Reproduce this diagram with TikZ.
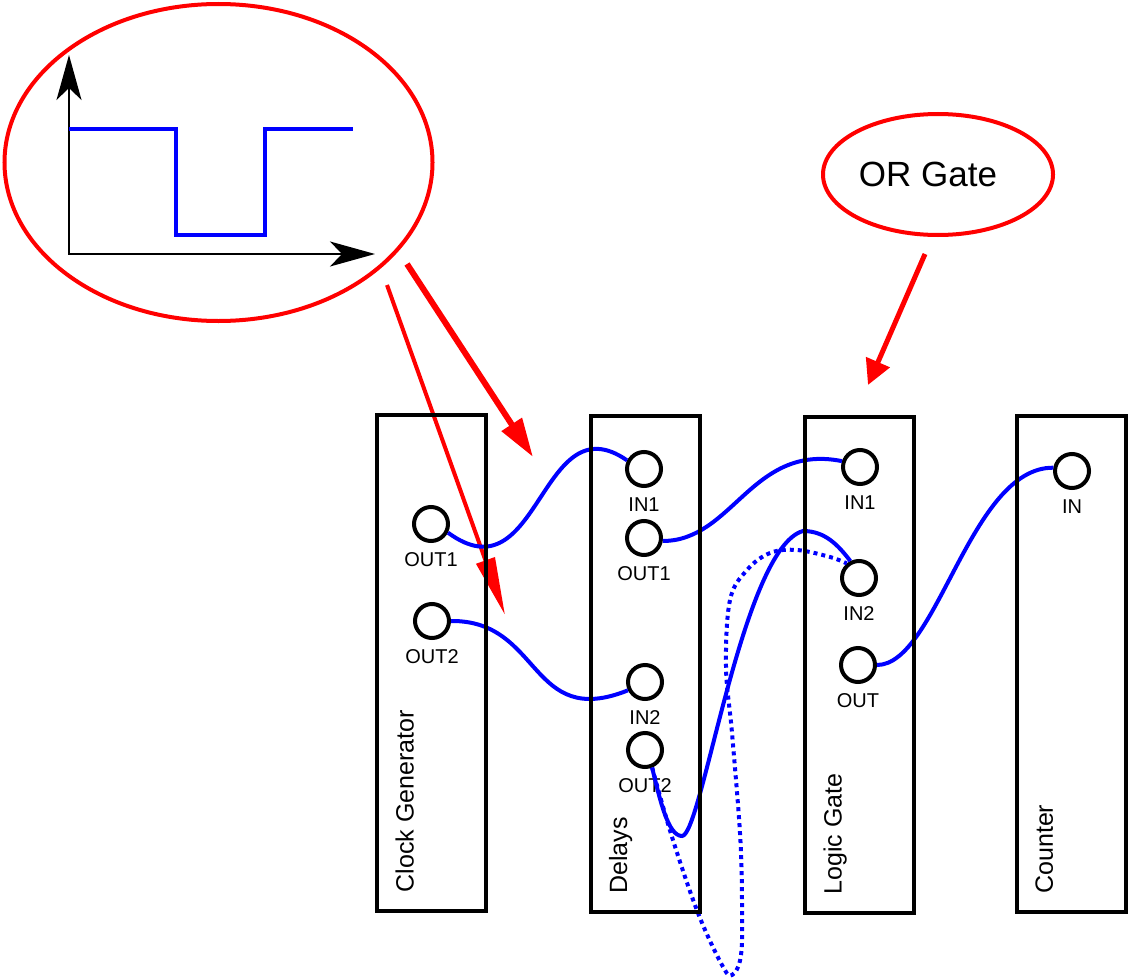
\documentclass[tikz,border=0pt]{standalone}
\usepackage{fontspec}
\setmainfont{Liberation Sans}
\usetikzlibrary{arrows.meta,shapes.geometric,calc}
\begin{document}
\begin{tikzpicture}[x=0.5pt,y=-0.5pt,
  blk/.style={draw, line width=2pt, minimum width=54.5pt, minimum height=248pt, inner sep=0pt},
  boxlbl/.style={rotate=90, anchor=north west, inner sep=0pt, font=\fontsize{12.5pt}{15pt}\selectfont},
  port/.style={circle, draw, line width=2pt, minimum size=17pt, inner sep=0pt},
  plbl/.style={inner sep=0pt, font=\fontsize{10pt}{12pt}\selectfont},
  label distance=4.5pt,
  wire/.style={draw=blue, line width=2pt},
  dotwire/.style={draw=blue, line width=2pt, dash pattern=on 2pt off 2pt},
  callout/.style={ellipse, draw=red, line width=2pt, inner sep=0pt},
  redarrow/.style={draw=red, line width=#1},
  axisline/.style={line width=1pt}
]
\useasboundingbox (0,0) rectangle (1129,979);

% callouts
\node[callout, minimum width=214pt, minimum height=158.5pt] (sig) at (218.5,162.5) {};
\node[callout, minimum width=115pt, minimum height=60.5pt, font=\fontsize{17.5pt}{21pt}\selectfont] (org) at (938,174.5) {OR Gate\rule{10pt}{0pt}};

% signal plot
\coordinate (ytip) at (69,55);
\coordinate (orig) at (69,254);
\coordinate (xtip) at (375,254);
\draw[axisline, {Stealth[length=22.5pt,width=12.5pt,inset=6pt]}-{Stealth[length=22.5pt,width=12.5pt,inset=6pt]}] (ytip) -- (orig) -- (xtip);
\draw[blue, line width=2pt] (69,129) -- (176,129) -- (176,235) -- (265,235) -- (265,129) -- (353,129);

% red arrows
\coordinate (ra) at (407,264); \coordinate (rae) at (533,457);
\coordinate (rb) at (387,285); \coordinate (rbe) at (505,615);
\coordinate (rc) at (925,254); \coordinate (rce) at (868,385);
\draw[redarrow=3pt, -{Triangle[length=19.5pt,width=11.5pt]}] (ra) -- (rae);
\draw[redarrow=2pt, -{Triangle[length=29pt,width=9.5pt]}] (rb) -- (rbe);
\draw[redarrow=2.5pt, -{Triangle[length=12.5pt,width=12.5pt]}] (rc) -- (rce);

% ports
\node[port, label={[plbl]below:OUT1}] (cgo1) at (431,524) {};
\node[port, label={[plbl]below:OUT2}] (cgo2) at (432,621) {};
\node[port, label={[plbl]below:IN1}] (dli1) at (644,469) {};
\node[port, label={[plbl]below:OUT1}] (dlo1) at (644,538) {};
\node[port, label={[plbl]below:IN2}] (dli2) at (645,682) {};
\node[port, label={[plbl]below:OUT2}] (dlo2) at (645,750) {};
\node[port, label={[plbl]below:IN1}] (lgi1) at (860,467) {};
\node[port, label={[plbl]below:IN2}] (lgi2) at (859,578) {};
\node[port, label={[plbl]below:OUT}] (lgo) at (858,665) {};
\node[port, label={[plbl]below:IN}] (cti) at (1072,471) {};

% wires
\draw[wire] (cgo1.-27) .. controls (540,600) and (540,400) .. (dli1.153);
\draw[wire] (cgo2.east) .. controls (542,620) and (529,730) .. (dli2.206);
\draw[wire] (dlo1.-9) .. controls (733,541) and (752,443) .. (lgi1.162);
\draw[wire] (lgo.east) .. controls (937,665) and (970,467) .. (cti.170);
\draw[wire] (dlo2.-68) .. controls (660,800) and (668,836) .. (682,836)
  .. controls (702,836) and (742,548) .. (803,531)
  .. controls (825,531) and (838,545) .. (lgi2.117);
\draw[dotwire] plot[smooth, tension=0.6] coordinates {(dlo2.-68) (672,837) (698,913) (722,965) (732,975) (741,955) (742,900) (740,833) (732,733) (726,667) (730,600) (747,570) (770,553) (797,550) (830,557) (lgi2.130)};

% blocks
\node[blk] (cg) at (431.5,662.5) {};
\node[blk] (dl) at (645,664) {};
\node[blk] (lg) at (859.5,665) {};
\node[blk] (ct) at (1071.5,664) {};
\node[boxlbl] at ($(cg.south west)+(20,-20)$) {Clock Generator};
\node[boxlbl] at ($(dl.south west)+(20,-20)$) {Delays};
\node[boxlbl] at ($(lg.south west)+(20,-20)$) {Logic Gate};
\node[boxlbl] at ($(ct.south west)+(20,-20)$) {Counter};
\end{tikzpicture}
\end{document}
